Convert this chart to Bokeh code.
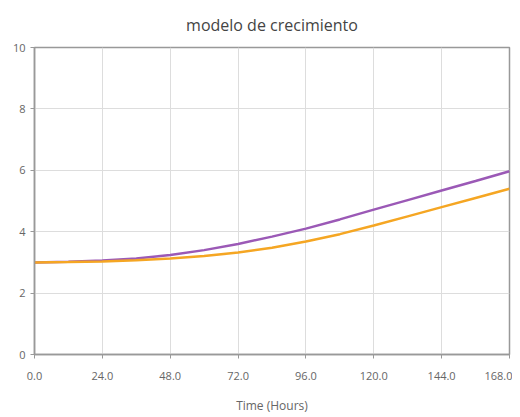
from bokeh.plotting import figure
from bokeh.models import FixedTicker, NumeralTickFormatter, Range1d
from bokeh.embed import file_html
from bokeh.resources import INLINE

hours = [0, 12, 24, 36, 48, 60, 72, 84, 96, 108, 120, 132, 144, 156, 168]
purple_series = [3.0, 3.02, 3.06, 3.13, 3.24, 3.40, 3.60, 3.84, 4.10, 4.40, 4.72, 5.03, 5.34, 5.65, 5.97]
orange_series = [3.0, 3.01, 3.03, 3.07, 3.13, 3.21, 3.32, 3.48, 3.68, 3.92, 4.20, 4.50, 4.80, 5.10, 5.40]
x_ticks = [0, 24, 48, 72, 96, 120, 144, 168]
y_ticks = [0, 2, 4, 6, 8, 10]

FONT = "Open Sans"
GREY = "#666666"

p = figure(width=512, height=416, output_backend="svg", toolbar_location=None,
           min_border_left=34, min_border_right=3, min_border_top=47, min_border_bottom=58,
           x_range=Range1d(0, 168), y_range=Range1d(0, 10),
           title="modelo de crecimiento")

p.title.align = "center"
p.title.text_font = FONT
p.title.text_font_size = "16px"
p.title.text_font_style = "normal"
p.title.text_color = "#444444"
p.title.standoff = 23

p.line(hours, purple_series, line_color="#9b59b6", line_width=2.5)
p.line(hours, orange_series, line_color="#f5a623", line_width=2.5)

p.xaxis.ticker = FixedTicker(ticks=x_ticks)
p.xaxis.formatter = NumeralTickFormatter(format="0.0")
p.yaxis.ticker = FixedTicker(ticks=y_ticks)
p.xaxis.axis_label = "Time (Hours)"

for ax in (p.xaxis, p.yaxis):
    ax.axis_line_color = "#999999"
    ax.axis_line_width = 1.5
    ax.major_tick_line_color = "#999999"
    ax.major_tick_in = 0
    ax.major_tick_out = 4
    ax.minor_tick_line_color = None
    ax.major_label_text_font = FONT
    ax.major_label_text_font_size = "11px"
    ax.major_label_text_color = GREY
    ax.axis_label_text_font = FONT
    ax.axis_label_text_font_size = "12px"
    ax.axis_label_text_font_style = "normal"
    ax.axis_label_text_color = GREY

p.xaxis.major_label_standoff = 13
p.xaxis.axis_label_standoff = 14

p.grid.grid_line_color = "#dddddd"
p.grid.grid_line_width = 1
p.outline_line_color = "#999999"
p.outline_line_width = 1.5

open("out.html", "w").write(file_html(p, INLINE))
